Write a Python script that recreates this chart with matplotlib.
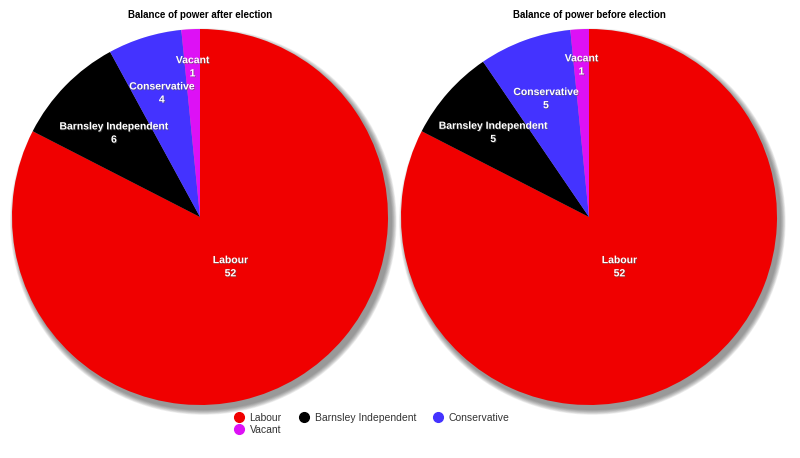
import numpy as np
import matplotlib
matplotlib.use("Agg")
import matplotlib.pyplot as plt
from matplotlib.lines import Line2D
from matplotlib.patches import Circle
import matplotlib.patheffects as pe

plt.rcParams['font.family'] = ['Liberation Sans', 'DejaVu Sans']

parties = ["Labour", "Barnsley Independent", "Conservative", "Vacant"]
after = [52, 6, 4, 1]
before = [52, 5, 5, 1]
colors = ["#f00000", "#000000", "#4433ff", "#dd11f5"]
titles = ["Balance of power after election", "Balance of power before election"]

# label distance (fraction of radius) per slice, just for placement
label_r = [[0.31, 0.64, 0.69, 0.80], [0.31, 0.68, 0.67, 0.81]]

fig = plt.figure(figsize=(8, 4.58), dpi=100)

L = 1.1
pies = [(200, 217, 188), (589, 217, 188)]  # centre x, centre y (px from top), radius px
for k, vals in enumerate([after, before]):
    cx, cy, R = pies[k]
    half = R * L
    ax = fig.add_axes([(cx - half) / 800, (458 - cy - half) / 458, 2 * half / 800, 2 * half / 458])
    # soft grey shadow
    for j in range(8):
        ax.add_patch(Circle((0.018, -0.024), 1.0 + 0.0035 * (8 - j), color='#303030',
                            alpha=0.08, lw=0, zorder=0))
    wedges, _ = ax.pie(vals, colors=colors, startangle=90, counterclock=False,
                       radius=1, wedgeprops=dict(linewidth=0, zorder=2))
    ax.set_xlim(-L, L)
    ax.set_ylim(-L, L)
    ax.set_aspect('equal')
    ax.axis('off')
    for i, w in enumerate(wedges):
        ang = np.deg2rad((w.theta1 + w.theta2) / 2)
        r = label_r[k][i]
        ax.text(r * np.cos(ang), r * np.sin(ang), f"{parties[i]}\n{vals[i]}",
                ha='center', va='center', color='white', fontsize=7.5,
                fontweight='bold', linespacing=1.4, zorder=5,
                path_effects=[pe.withSimplePatchShadow(offset=(0.6, -0.6), shadow_rgbFace='#555555', alpha=0.6)])
    fig.text(cx / 800, 1 - 15 / 458, titles[k], ha='center', va='center',
             fontsize=7, fontweight='bold')

handles = [Line2D([], [], marker='o', linestyle='', color=c, markersize=7) for c in colors]
order = [0, 3, 1, 2]
fig.legend([handles[i] for i in order], [parties[i] for i in order], ncol=3,
           loc='center', bbox_to_anchor=(371 / 800, 1 - 424 / 458), frameon=False,
           fontsize=7.5, handletextpad=0.45, columnspacing=1.5, labelspacing=0.2,
           handlelength=1.2, labelcolor='#333333')

fig.savefig("out.png", dpi=100)
